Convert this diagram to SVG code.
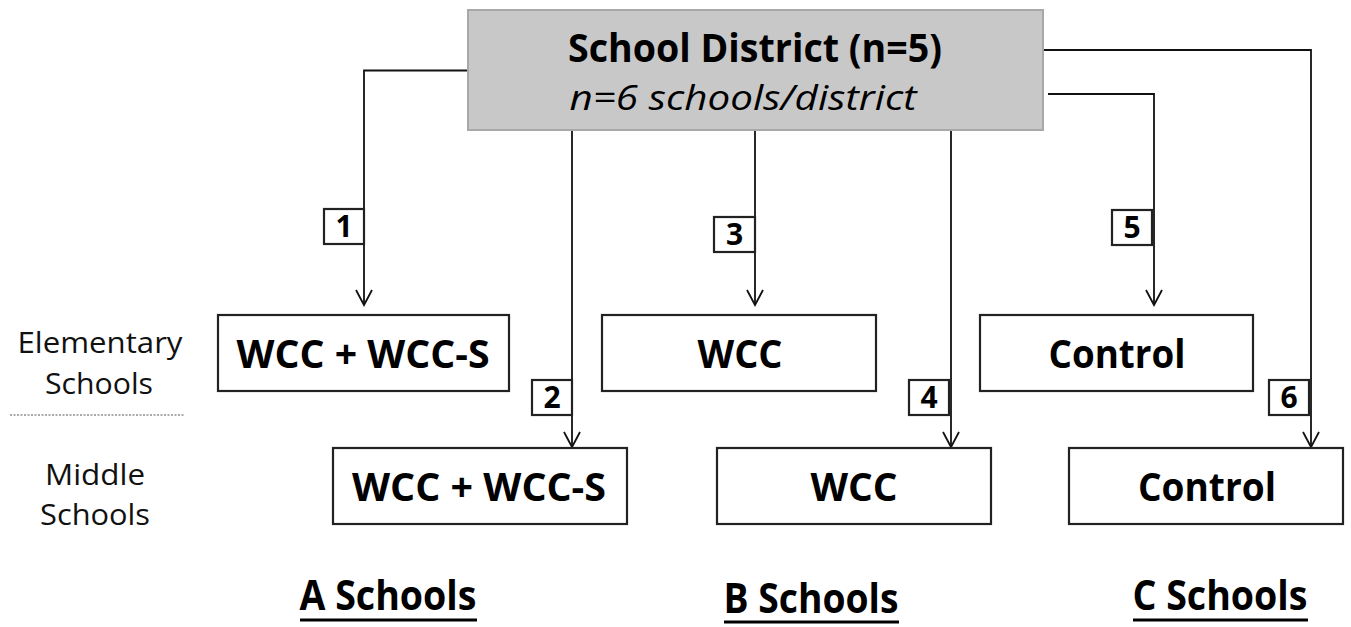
<svg xmlns="http://www.w3.org/2000/svg" width="1351" height="627" viewBox="0 0 1351 627">
<defs>
<marker id="arr" markerWidth="24" markerHeight="24" viewBox="-18 -12 20 24" refX="0" refY="0" orient="auto" markerUnits="userSpaceOnUse">
<path d="M-15,-8 L0,0 L-15,8" fill="none" stroke="#111" stroke-width="1.8"/>
</marker>
<style>
.node{fill:#fff;stroke:#222;stroke-width:2.2}
.top{fill:#c8c8c8;stroke:#a8a8a8;stroke-width:2}
.nt{font-family:"Open Sans","Noto Sans",sans-serif;font-weight:bold;font-size:40px;fill:#000;text-anchor:middle}
.lb{fill:#fff;stroke:#222;stroke-width:2.2}
.lt{font-family:"Open Sans","Noto Sans",sans-serif;font-weight:bold;font-size:30px;fill:#000;text-anchor:middle}
.side{font-family:"Open Sans","Noto Sans",sans-serif;font-size:30px;fill:#111;text-anchor:middle}
.grp{font-family:"Open Sans","Noto Sans",sans-serif;font-weight:bold;font-size:41px;fill:#000;text-anchor:middle}
.c{fill:none;stroke:#111;stroke-width:1.8}
</style>
</defs>
<rect width="1351" height="627" fill="#fff"/>

<g id="connectors">
<path class="c" d="M468,70.5 H364 V305" marker-end="url(#arr)"/>
<path class="c" d="M572,130 V447" marker-end="url(#arr)"/>
<path class="c" d="M755,130 V305" marker-end="url(#arr)"/>
<path class="c" d="M951,130 V447" marker-end="url(#arr)"/>
<path class="c" d="M1048,94 H1154 V305" marker-end="url(#arr)"/>
<path class="c" d="M1043,35 V50 H1311 V447" marker-end="url(#arr)"/>
</g>

<g id="district">
<rect class="top" x="468" y="10" width="575" height="120"/>
<text x="755" y="62" class="nt" font-size="38" textLength="374" lengthAdjust="spacingAndGlyphs">School District (n=5)</text>
<text x="743" y="110" font-family="'Open Sans','Noto Sans',sans-serif" font-style="italic" font-size="34" text-anchor="middle" textLength="347" lengthAdjust="spacingAndGlyphs">n=6 schools/district</text>
</g>

<g id="label1"><rect class="lb" x="324" y="209" width="40" height="35"/><text class="lt" x="344" y="237">1</text></g>
<g id="label2"><rect class="lb" x="532" y="380" width="40" height="35"/><text class="lt" x="552" y="408">2</text></g>
<g id="label3"><rect class="lb" x="714" y="217" width="41" height="35"/><text class="lt" x="734.5" y="245">3</text></g>
<g id="label4"><rect class="lb" x="909" y="380" width="40" height="35"/><text class="lt" x="929" y="408">4</text></g>
<g id="label5"><rect class="lb" x="1112" y="210" width="40" height="35"/><text class="lt" x="1132" y="238">5</text></g>
<g id="label6"><rect class="lb" x="1269" y="380" width="40" height="35"/><text class="lt" x="1289" y="408">6</text></g>

<g id="elemA"><rect class="node" x="218" y="315" width="291" height="76"/><text class="nt" x="363" y="368" textLength="253" lengthAdjust="spacingAndGlyphs">WCC + WCC-S</text></g>
<g id="elemB"><rect class="node" x="602" y="315" width="274" height="76"/><text class="nt" x="740" y="368" textLength="85" lengthAdjust="spacingAndGlyphs">WCC</text></g>
<g id="elemC"><rect class="node" x="980" y="315" width="273" height="76"/><text class="nt" x="1117" y="368" textLength="137" lengthAdjust="spacingAndGlyphs">Control</text></g>
<g id="midA"><rect class="node" x="333" y="448" width="294" height="76"/><text class="nt" x="479" y="501" textLength="254" lengthAdjust="spacingAndGlyphs">WCC + WCC-S</text></g>
<g id="midB"><rect class="node" x="717" y="448" width="274" height="76"/><text class="nt" x="854" y="501" textLength="87" lengthAdjust="spacingAndGlyphs">WCC</text></g>
<g id="midC"><rect class="node" x="1069" y="448" width="274" height="76"/><text class="nt" x="1207" y="501" textLength="138" lengthAdjust="spacingAndGlyphs">Control</text></g>

<g id="side-labels">
<text class="side" x="100" y="353" textLength="165" lengthAdjust="spacingAndGlyphs">Elementary</text>
<text class="side" x="99" y="394" textLength="108" lengthAdjust="spacingAndGlyphs">Schools</text>
<line x1="10" y1="415" x2="185" y2="415" stroke="#555" stroke-width="1" stroke-dasharray="2,1.5"/>
<text class="side" x="95" y="485" textLength="100" lengthAdjust="spacingAndGlyphs">Middle</text>
<text class="side" x="95" y="525" textLength="110" lengthAdjust="spacingAndGlyphs">Schools</text>
</g>

<g id="groups">
<text class="grp" x="388" y="610" textLength="177" lengthAdjust="spacingAndGlyphs">A Schools</text>
<line x1="300" y1="620" x2="477" y2="620" stroke="#000" stroke-width="3"/>
<text class="grp" x="811" y="613" textLength="175" lengthAdjust="spacingAndGlyphs">B Schools</text>
<line x1="724" y1="622" x2="899" y2="622" stroke="#000" stroke-width="3"/>
<text class="grp" x="1220" y="610" textLength="175" lengthAdjust="spacingAndGlyphs">C Schools</text>
<line x1="1133" y1="620" x2="1308" y2="620" stroke="#000" stroke-width="3"/>
</g>
</svg>
